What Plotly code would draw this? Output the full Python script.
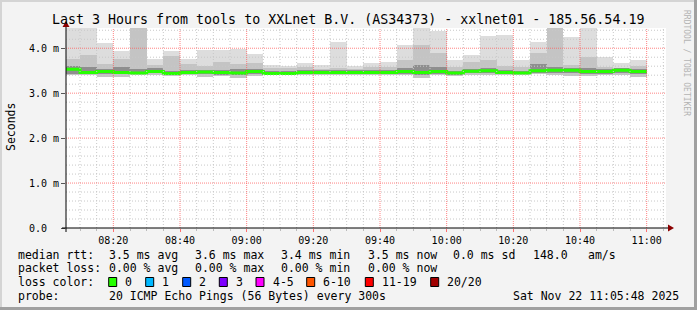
import pandas as pd
import plotly.graph_objects as go

# ---------------- data ----------------
DAY = "2025-11-22 "
end_times = ["08:10", "08:15", "08:20", "08:25", "08:30", "08:35", "08:40", "08:45",
             "08:50", "08:55", "09:00", "09:05", "09:10", "09:15", "09:20", "09:25",
             "09:30", "09:35", "09:40", "09:45", "09:50", "09:55", "10:00", "10:05",
             "10:10", "10:15", "10:20", "10:25", "10:30", "10:35", "10:40", "10:45",
             "10:50", "10:55", "11:00"]
# round-trip times in ms (smoke distribution per 5-minute step)
rtt_max = [4.60, 4.60, 4.12, 3.94, 4.60, 3.75, 3.94, 3.76, 3.97, 3.96, 3.99, 3.87,
           3.62, 3.60, 3.67, 3.62, 4.14, 3.61, 3.67, 3.70, 4.07, 4.60, 4.38, 3.73,
           3.84, 4.27, 4.29, 3.73, 4.14, 4.60, 4.25, 4.60, 3.81, 3.67, 3.73]
rtt_upper = [3.77, 3.84, 3.66, 3.75, 4.60, 3.62, 3.82, 3.66, 3.60, 3.70, 3.66, 3.67,
             3.55, 3.55, 3.58, 3.53, 3.55, 3.53, 3.58, 3.58, 3.73, 4.07, 3.90, 3.58,
             3.70, 3.73, 3.60, 3.58, 3.90, 4.60, 3.62, 3.81, 3.58, 3.57, 3.60]
rtt_hi = [3.60, 3.58, 3.53, 3.58, 3.53, 3.55, 3.50, 3.52, 3.52, 3.52, 3.53, 3.53,
          3.49, 3.49, 3.51, 3.51, 3.51, 3.51, 3.52, 3.52, 3.55, 3.62, 3.58, 3.50,
          3.54, 3.56, 3.52, 3.50, 3.66, 3.58, 3.56, 3.56, 3.53, 3.55, 3.53]
rtt_median = [3.53, 3.46, 3.48, 3.46, 3.45, 3.48, 3.44, 3.46, 3.47, 3.46, 3.45, 3.48,
              3.44, 3.44, 3.46, 3.46, 3.46, 3.46, 3.46, 3.46, 3.48, 3.46, 3.48, 3.45,
              3.49, 3.50, 3.46, 3.45, 3.50, 3.51, 3.51, 3.48, 3.48, 3.51, 3.48]
rtt_lo = [3.43, 3.42, 3.43, 3.42, 3.42, 3.44, 3.41, 3.42, 3.42, 3.41, 3.40, 3.43,
          3.42, 3.42, 3.42, 3.43, 3.42, 3.42, 3.42, 3.42, 3.43, 3.40, 3.43, 3.40,
          3.44, 3.45, 3.42, 3.42, 3.45, 3.45, 3.45, 3.43, 3.43, 3.45, 3.42]
rtt_min = [3.41, 3.40, 3.36, 3.37, 3.40, 3.40, 3.39, 3.40, 3.37, 3.38, 3.34, 3.38,
           3.40, 3.40, 3.40, 3.40, 3.40, 3.40, 3.40, 3.40, 3.40, 3.33, 3.40, 3.38,
           3.40, 3.41, 3.40, 3.40, 3.43, 3.40, 3.38, 3.38, 3.40, 3.40, 3.36]

x_ticks = ["08:20", "08:40", "09:00", "09:20", "09:40", "10:00", "10:20", "10:40", "11:00"]
y_ticks = [0, 1, 2, 3, 4]
y_ticktext = ["0.0\u00a0\u00a0", "1.0 m", "2.0 m", "3.0 m", "4.0 m"]
view_start, view_end = "08:05:48", "11:05:48"

title = "Last 3 Hours from tools to XXLnet B.V. (AS34373) - xxlnet01 - 185.56.54.19"
legend_rows = [
    [("median rtt:", 16), ("3.5 ms avg", 107.3), ("3.6 ms max", 193.3), ("3.4 ms min", 279.3),
     ("3.5 ms now", 365.7), ("0.0 ms sd", 451), ("148.0", 530.7), ("am/s", 586)],
    [("packet loss:", 16), ("0.00 % avg", 107.3), ("0.00 % max", 193.3),
     ("0.00 % min", 279.3), ("0.00 % now", 365.7)],
]
loss_labels = ["0", "1", "2", "3", "4-5", "6-10", "11-19", "20/20"]
loss_colors = ["#26ff00", "#00b8ff", "#0059ff", "#7e00ff", "#ff00ff", "#ff5500", "#ff0000", "#a10000"]
loss_box_x = [108.7, 145.7, 182.7, 219.3, 256.0, 306.7, 365.3, 430.7]
probe_text = "20 ICMP Echo Pings (56 Bytes) every 300s"
stamp_text = "Sat Nov 22 11:05:48 2025"

# ---------------- geometry ----------------
W, H = 697, 310
L, R, T, B = 66, 31, 28, 82
PW, PH = W - L - R, H - T - B
FONT = "DejaVu Sans Mono"


def fx(px):
    return (px - L) / PW


def fy(py):
    return (H - B - py) / PH


ends = pd.to_datetime([DAY + t for t in end_times])
starts = ends - pd.Timedelta(minutes=5)

fig = go.Figure()
STEP = 300000  # ms


def smoke(bottom, top, color):
    fig.add_trace(go.Bar(
        x=ends, y=[t - b for t, b in zip(top, bottom)], base=bottom,
        width=STEP, offset=-STEP, marker=dict(color=color, line=dict(width=0)),
        hoverinfo="skip", showlegend=False))


smoke(rtt_min, rtt_max, "#dddddd")
smoke(rtt_min, rtt_upper, "#c4c4c4")
smoke(rtt_lo, rtt_hi, "#8e8e8e")

fig.add_trace(go.Scatter(
    x=list(starts) + [ends[-1]], y=rtt_median + [rtt_median[-1]],
    mode="lines", line=dict(color="#26ff00", width=3, shape="hv"),
    hoverinfo="skip", showlegend=False))

shapes = []
# grid above the smoke (as rrdtool draws it)
minor_x = pd.date_range(DAY + "08:10", DAY + "11:05", freq="5min")
major_x = pd.to_datetime([DAY + t for t in x_ticks])
for t in minor_x:
    if t in major_x:
        continue
    shapes.append(dict(type="line", xref="x", yref="paper", x0=t, x1=t, y0=0, y1=1,
                       line=dict(color="#c8c8c8", width=1, dash="1px,2px"), layer="above"))
for i in range(1, 23):
    v = i * 0.2
    if i % 5 == 0:
        continue
    shapes.append(dict(type="line", xref="paper", yref="y", x0=0, x1=1, y0=v, y1=v,
                       line=dict(color="#c8c8c8", width=1, dash="1px,2px"), layer="above"))
for t in major_x:
    shapes.append(dict(type="line", xref="x", yref="paper", x0=t, x1=t, y0=0, y1=1,
                       line=dict(color="rgba(255,90,90,0.75)", width=1, dash="1px,1px"), layer="above"))
for v in y_ticks[1:]:
    shapes.append(dict(type="line", xref="paper", yref="y", x0=0, x1=1, y0=v, y1=v,
                       line=dict(color="rgba(255,90,90,0.75)", width=1, dash="1px,1px"), layer="above"))

# axes lines + arrows
shapes.append(dict(type="line", xref="paper", yref="paper", x0=fx(62), x1=fx(669), y0=0, y1=0,
                   line=dict(color="black", width=1), layer="above"))
shapes.append(dict(type="line", xref="paper", yref="paper", x0=0, x1=0, y0=fy(232), y1=fy(26),
                   line=dict(color="black", width=1), layer="above"))
shapes.append(dict(type="path", xref="paper", yref="paper",
                   path=f"M {fx(668)} {fy(224.5)} L {fx(674)} {fy(228)} L {fx(668)} {fy(231.5)} Z",
                   fillcolor="#8b0000", line=dict(width=0), layer="above"))
shapes.append(dict(type="path", xref="paper", yref="paper",
                   path=f"M {fx(62.5)} {fy(27)} L {fx(66)} {fy(21)} L {fx(69.5)} {fy(27)} Z",
                   fillcolor="#8b0000", line=dict(width=0), layer="above"))

# frame
shapes.append(dict(type="rect", xref="paper", yref="paper", x0=fx(0), x1=fx(2), y0=fy(H), y1=fy(0),
                   fillcolor="#d4d4d4", line=dict(width=0)))
shapes.append(dict(type="rect", xref="paper", yref="paper", x0=fx(0), x1=fx(W), y0=fy(2), y1=fy(0),
                   fillcolor="#d4d4d4", line=dict(width=0)))
shapes.append(dict(type="rect", xref="paper", yref="paper", x0=fx(W - 3), x1=fx(W), y0=fy(H), y1=fy(0),
                   fillcolor="#a0a0a0", line=dict(width=0)))
shapes.append(dict(type="rect", xref="paper", yref="paper", x0=fx(0), x1=fx(W), y0=fy(H), y1=fy(H - 3),
                   fillcolor="#a0a0a0", line=dict(width=0)))

annotations = []


def txt(s, x, y, size=11.5, anchor="left", color="black", angle=0):
    annotations.append(dict(text=s, x=fx(x), y=fy(y), xref="paper", yref="paper",
                            xanchor=anchor, yanchor="middle", showarrow=False,
                            textangle=angle, font=dict(family=FONT, size=size, color=color)))


txt(title, 347.5, 19, size=13.3, anchor="center")
txt("Seconds", 10.5, 127.5, size=11.5, anchor="center", angle=-90)
txt("RRDTOOL / TOBI OETIKER", 687, 63, size=8, anchor="center", color="#b4b4b4", angle=90)

row_y = [254.5, 268, 282, 296]
for row, yy in zip(legend_rows, row_y):
    for s, x in row:
        txt(s, x, yy)
txt("loss color:", 16, row_y[2])
for lab, col, bx in zip(loss_labels, loss_colors, loss_box_x):
    shapes.append(dict(type="rect", xref="paper", yref="paper",
                       x0=fx(bx), x1=fx(bx + 8), y0=fy(row_y[2] + 4.5), y1=fy(row_y[2] - 4.5),
                       fillcolor=col, line=dict(color="black", width=1)))
    txt(lab, bx + 14.5, row_y[2])
txt("probe:", 16, row_y[3])
txt(probe_text, 107.3, row_y[3])
txt(stamp_text, 680.5, row_y[3], anchor="right")

fig.update_layout(
    width=W, height=H, margin=dict(l=L, r=R, t=T, b=B, pad=0),
    paper_bgcolor="#f3f3f3", plot_bgcolor="white",
    barmode="overlay", bargap=0, showlegend=False,
    shapes=shapes, annotations=annotations,
    xaxis=dict(type="date", range=[DAY + view_start, DAY + view_end],
               tickvals=list(major_x), tickformat="%H:%M",
               tickfont=dict(family=FONT, size=10, color="black"),
               showgrid=False, zeroline=False, showline=False,
               ticks="outside", ticklen=3, tickcolor="#ff7070",
               minor=dict(ticks="outside", ticklen=2, tickcolor="#bbbbbb", dtick=STEP, showgrid=False)),
    yaxis=dict(range=[0, 4.45], tickvals=y_ticks, ticktext=y_ticktext,
               tickfont=dict(family=FONT, size=10, color="black"),
               showgrid=False, zeroline=False, showline=False,
               ticks="outside", ticklen=4, tickcolor="#555555"),
)

fig.write_html("out.html")
